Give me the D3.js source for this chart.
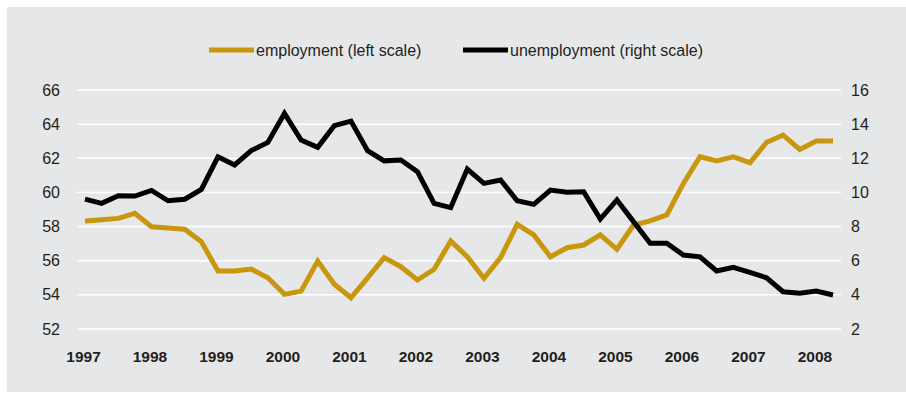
<!DOCTYPE html>
<html>
<head>
<meta charset="utf-8">
<script src="https://cdn.jsdelivr.net/npm/d3@7"></script>
<style>
  html, body { margin: 0; padding: 0; background: #fff; }
  svg { display: block; font-family: "Liberation Sans", Arial, Helvetica, sans-serif; }
  .grid line { stroke: #fff; stroke-width: 1.5; }
  .grid path { display: none; }
  .axis path, .axis line { display: none; }
  .axis text { fill: #231f20; }
</style>
</head>
<body>
<svg id="chart" width="906" height="393"></svg>
<script>
// quarterly, 1997 Q1 .. 2008 Q2
const years = [1997, 1998, 1999, 2000, 2001, 2002, 2003, 2004, 2005, 2006, 2007, 2008];
const employment = [
  58.33, 58.40, 58.48, 58.78, 57.99, 57.92, 57.84, 57.11,
  55.40, 55.40, 55.51, 55.00, 54.03, 54.22, 55.98, 54.62,
  53.83, 55.00, 56.18, 55.65, 54.87, 55.50, 57.15, 56.23,
  54.97, 56.18, 58.13, 57.51, 56.23, 56.76, 56.92, 57.51,
  56.67, 58.09, 58.33, 58.68, 60.53, 62.09, 61.84, 62.09,
  61.74, 62.93, 63.36, 62.52, 63.01, 63.01
];
const unemployment = [
  9.61, 9.36, 9.81, 9.79, 10.12, 9.51, 9.60, 10.18,
  12.09, 11.61, 12.45, 12.93, 14.63, 13.07, 12.64, 13.91,
  14.18, 12.45, 11.85, 11.90, 11.22, 9.36, 9.11, 11.37,
  10.53, 10.73, 9.51, 9.30, 10.14, 10.01, 10.04, 8.44,
  9.56, 8.29, 7.02, 7.02, 6.33, 6.23, 5.40, 5.61,
  5.32, 5.00, 4.18, 4.09, 4.22, 3.99
];
const leftTicks = [52, 54, 56, 58, 60, 62, 64, 66];
const rightTicks = [2, 4, 6, 8, 10, 12, 14, 16];

const GOLD = "#c8970e";
const BLACK = "#000";

const svg = d3.select("#chart");

// panel background
svg.append("rect").attr("x", 7).attr("y", 7).attr("width", 899).attr("height", 385).attr("fill", "#e6e7e9");

const x = d3.scaleLinear().domain([0, employment.length - 1]).range([85, 833]);
const yL = d3.scaleLinear().domain([52, 66]).range([329, 90]);
const yR = d3.scaleLinear().domain([2, 16]).range([329, 90]);

// gridlines
svg.append("g").attr("class", "grid")
  .selectAll("line").data(leftTicks).join("line")
  .attr("x1", 77).attr("x2", 841)
  .attr("y1", d => yL(d)).attr("y2", d => yL(d));

// axes
svg.append("g").attr("class", "axis").attr("transform", "translate(62,0)")
  .call(d3.axisLeft(yL).tickValues(leftTicks).tickSize(0).tickPadding(2))
  .selectAll("text").style("font-size", "16px");

svg.append("g").attr("class", "axis").attr("transform", "translate(849,0)")
  .call(d3.axisRight(yR).tickValues(rightTicks).tickSize(0).tickPadding(2))
  .selectAll("text").style("font-size", "16px");

svg.append("g").attr("class", "axis").attr("transform", "translate(-2,345)")
  .call(d3.axisBottom(x).tickValues(years.map((y, i) => i * 4)).tickFormat((d, i) => years[i]).tickSize(0).tickPadding(6))
  .selectAll("text").style("font-size", "15.5px").style("font-weight", "bold");

// lines
const line = y => d3.line().x((d, i) => x(i)).y(d => y(d));

svg.append("path").datum(employment)
  .attr("fill", "none").attr("stroke", GOLD).attr("stroke-width", 5)
  .attr("stroke-linejoin", "miter").attr("d", line(yL));

svg.append("path").datum(unemployment)
  .attr("fill", "none").attr("stroke", BLACK).attr("stroke-width", 5)
  .attr("stroke-linejoin", "miter").attr("d", line(yR));

// legend
const legend = [
  { label: "employment (left scale)", color: GOLD, x: 209 },
  { label: "unemployment (right scale)", color: BLACK, x: 463 }
];
const lg = svg.append("g").selectAll("g").data(legend).join("g")
  .attr("transform", d => `translate(${d.x},50)`);
lg.append("line").attr("x1", 0).attr("x2", 45).attr("y1", 0).attr("y2", 0)
  .attr("stroke", d => d.color).attr("stroke-width", 5);
lg.append("text").attr("x", 47).attr("y", 6)
  .style("font-size", "16px").style("fill", "#231f20")
  .text(d => d.label);
</script>
</body>
</html>
